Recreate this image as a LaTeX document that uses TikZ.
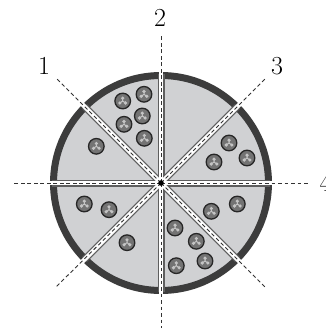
\documentclass[tikz,border=0pt]{standalone}
\definecolor{ringc}{HTML}{3C3C3C}
\definecolor{sectorc}{HTML}{D0D1D3}
\definecolor{edgec}{HTML}{5E5E5E}
\definecolor{beadc}{HTML}{737373}
\definecolor{beadl}{HTML}{C4C4C4}
\tikzset{
  x=1pt,y=-1pt,
  numlabel/.style={inner sep=0pt,font=\fontsize{26}{26}\selectfont},
  bandedge/.style={draw=edgec,line width=7pt},
  bandgap/.style={draw=white,line width=4.4pt},
  axisline/.style={draw=black!80,line width=0.9pt,dash pattern=on 3.8pt off 2.7pt},
  bead/.pic={
    \fill[draw=black!85,line width=1.3pt,fill=beadc] (0,0) circle (7.8);
    \fill[beadl] (0,-2.8) circle (1.8) (-2.8,2) circle (1.8) (2.8,2) circle (1.8);
    \draw[beadl,line width=1pt] (0,0) -- (0,-2.8) (0,0) -- (-2.8,2) (0,0) -- (2.8,2);
  }
}
\begin{document}
\begin{tikzpicture}
\useasboundingbox (0,0) rectangle (326,329);
\coordinate (c) at (161,183);
\fill[sectorc] (c) circle (107);
\draw[ringc,line width=7pt] (c) circle (107.5);
\coordinate (e1) at (56,78);
\coordinate (e2) at (161,35);
\coordinate (e3) at (266,78);
\coordinate (e4) at (309,183);
\coordinate (e5) at (265,287);
\coordinate (e6) at (161,328);
\coordinate (e7) at (56,287);
\coordinate (e8) at (12,183);
% sector boundaries: grey edge, white gap, dashed axis
\coordinate (b1) at (84.5,106.5);
\coordinate (b2) at (161,74);
\coordinate (b3) at (237.5,106.5);
\coordinate (b4) at (270,183);
\coordinate (b5) at (237.5,259.5);
\coordinate (b6) at (161,292);
\coordinate (b7) at (84.5,259.5);
\coordinate (b8) at (52,183);
\foreach \i in {1,...,8} \draw[bandedge] (c) -- (b\i);
\foreach \i in {1,...,8} \draw[bandgap,shorten >=-4pt] (c) -- (b\i);
\foreach \i in {1,...,8} \draw[axisline] (c) -- (e\i);
\fill[black] (c) circle (2.8);
% beads
\foreach \x/\y in {122.7/101,144/94.3,142.3/116,124/124.3,144.3/138.3,96.3/146.3,
  229/143,247/158,214/162,
  237.3/204,211.3/211.3,175/228,196.3/241.3,205/261,176.3/265.7,
  84.3/204,109/209.7,127/242.7}
  \pic at (\x,\y) {bead};
\node[numlabel] (n1) at (44,66) {1};
\node[numlabel] (n2) at (160,18) {2};
\node[numlabel] (n3) at (277,66) {3};
\node[numlabel] (n4) at (325.5,183) {4};
\end{tikzpicture}
\end{document}
